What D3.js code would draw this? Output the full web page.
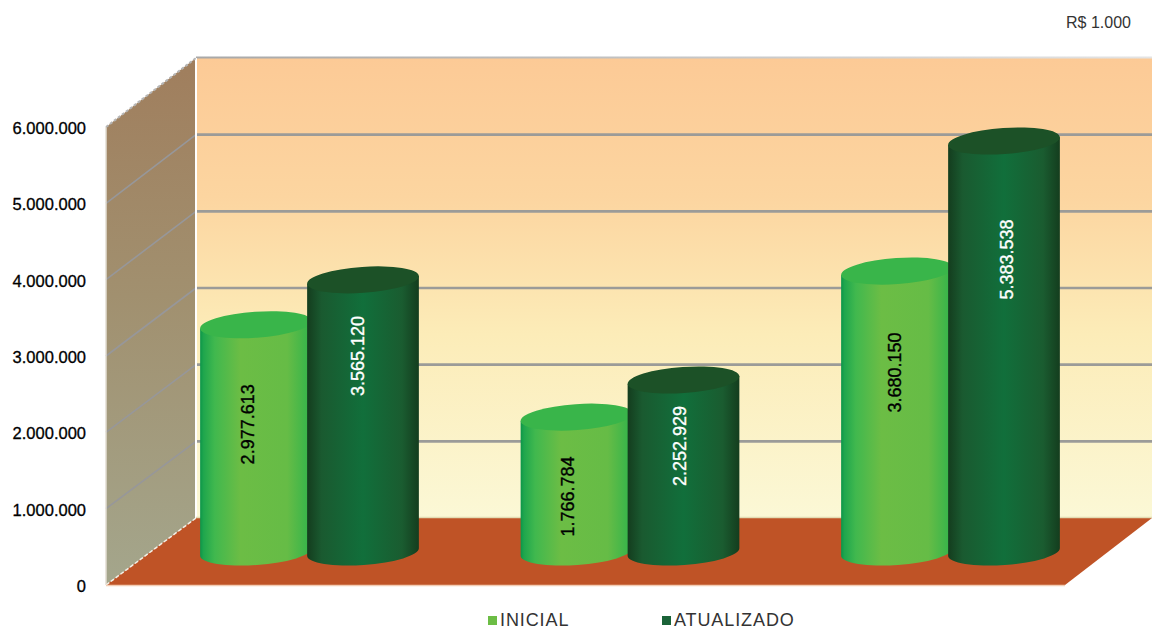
<!DOCTYPE html>
<html>
<head>
<meta charset="utf-8">
<script src="https://cdnjs.cloudflare.com/ajax/libs/d3/7.8.5/d3.min.js"></script>
<style>
  html, body { margin: 0; padding: 0; background: #fff; }
  svg { display: block; font-family: "Liberation Sans", Arial, sans-serif; }
</style>
</head>
<body>
<svg id="chart" width="1152" height="629"></svg>
<script>
// Budget values in R$ 1.000, one pair per group
const groups = [0, 1, 2];
const seriesNames = ["INICIAL", "ATUALIZADO"];
const inicial = [2977613, 1766784, 3680150];
const atualizado = [3565120, 2252929, 5383538];
const tickValues = [0, 1000000, 2000000, 3000000, 4000000, 5000000, 6000000];
const unitLabel = "R$ 1.000";

// Label placement along each cylinder, relative to its body centre: [dx, dy]
const labelNudgeInicial = [[-8, -14], [-9, 12], [-2, -39]];
const labelNudgeAtualizado = [[-5, -60], [-4, -20], [3, -87]];

const fmt = v => d3.format(",")(v).replace(/,/g, ".");

const W = 1152;
const depth = { dx: 90, dy: -67 };
const front = { x: 106, base: 585, top: 127 };
const floorRight = 1065;

const yFront = d3.scaleLinear().domain([0, 6000000]).range([front.base, front.top]);
const yBack = d3.scaleLinear().domain([0, 6000000]).range([front.base + depth.dy, 58]);
const yBar = d3.scaleLinear().domain([0, 6000000]).range([552, 94]);

const xGroup = d3.scaleBand().domain(groups).range([200, 1161.5]);
const xSeries = d3.scaleBand().domain(seriesNames).range([0, 214]);
const barW = 112, ry = 13, tilt = 4;

const svg = d3.select("#chart");
const defs = svg.append("defs");

function linear(id, stops, vertical) {
  const g = defs.append("linearGradient").attr("id", id)
    .attr("x1", 0).attr("y1", 0)
    .attr("x2", vertical ? 0 : 1).attr("y2", vertical ? 1 : 0);
  stops.forEach(([o, c]) => g.append("stop").attr("offset", o).attr("stop-color", c));
}
linear("backWall", [[0, "#fcca96"], [0.3, "#fcd5a0"], [0.6, "#fcecb8"], [1, "#fbf8d6"]], true);
linear("sideWall", [[0, "#a07e5d"], [0.45, "#a1906f"], [1, "#a4a68c"]], true);
linear("bodyINICIAL", [[0, "#0c9549"], [0.03, "#1fa64d"], [0.13, "#40b84e"], [0.36, "#6cbd45"], [0.78, "#66bc46"], [0.96, "#39b54a"], [1, "#39b54a"]]);
linear("bodyATUALIZADO", [[0, "#143d1e"], [0.13, "#1a5a30"], [0.5, "#116f3b"], [0.85, "#1a5c30"], [1, "#143d1e"]]);

const backX = front.x + depth.dx;
const backBase = yBack(0);

// Walls and floor of the 3D box
svg.append("rect").attr("x", backX).attr("y", yBack(6000000))
  .attr("width", W - backX).attr("height", backBase - yBack(6000000))
  .attr("fill", "url(#backWall)");
svg.append("polygon")
  .attr("points", [[front.x, yFront(6000000)], [backX, yBack(6000000)], [backX, backBase], [front.x, yFront(0)]].join(" "))
  .attr("fill", "url(#sideWall)");
svg.append("polygon")
  .attr("points", [[front.x, yFront(0)], [backX, backBase], [W, backBase], [floorRight, yFront(0)]].join(" "))
  .attr("fill", "#bf5326");

// Gridlines across both walls
const inner = tickValues.filter(v => v > 0 && v < 6000000);
svg.append("g").selectAll("line").data(inner).join("line")
  .attr("x1", backX).attr("x2", W)
  .attr("y1", d => yBack(d)).attr("y2", d => yBack(d))
  .attr("stroke", "#9b9b98").attr("stroke-width", 2.6);
svg.append("g").selectAll("line").data(inner).join("line")
  .attr("x1", front.x).attr("x2", backX)
  .attr("y1", d => yFront(d)).attr("y2", d => yBack(d))
  .attr("stroke", "#97979a").attr("stroke-width", 1.6);

// Box edges
linear("topEdge", [[0, "#a8a8a8"], [0.55, "#c8c8c8"], [1, "#e4e4e4"]]);
svg.append("rect").attr("x", backX).attr("y", yBack(6000000) - 1.5)
  .attr("width", W - backX).attr("height", 2).attr("fill", "url(#topEdge)");
svg.append("line").attr("x1", backX).attr("x2", backX)
  .attr("y1", yBack(6000000)).attr("y2", backBase)
  .attr("stroke", "#fff").attr("stroke-width", 2);
svg.append("line").attr("x1", front.x).attr("x2", front.x)
  .attr("y1", yFront(6000000)).attr("y2", yFront(0))
  .attr("stroke", "#e2ddd2").attr("stroke-width", 1.5);
svg.append("line").attr("x1", front.x).attr("y1", yFront(6000000))
  .attr("x2", backX).attr("y2", yBack(6000000))
  .attr("stroke", "#b5b5b5").attr("stroke-width", 2).attr("stroke-dasharray", "3 2");
svg.append("line").attr("x1", front.x).attr("y1", yFront(0))
  .attr("x2", backX).attr("y2", backBase)
  .attr("stroke", "#f2efe6").attr("stroke-width", 1.5).attr("stroke-dasharray", "4 2");
svg.append("line").attr("x1", front.x).attr("x2", floorRight)
  .attr("y1", yFront(0) + 0.5).attr("y2", yFront(0) + 0.5)
  .attr("stroke", "#f3cdb5").attr("stroke-width", 1.5);
svg.append("line").attr("x1", backX).attr("x2", W)
  .attr("y1", backBase - 0.5).attr("y2", backBase - 0.5)
  .attr("stroke", "#e3dcb4").attr("stroke-width", 1.5);

// Cylinders, light series first so the dark one overlaps it
const series = [
  { name: "INICIAL", values: inicial, nudge: labelNudgeInicial, top: "#39b54a", text: "#000" },
  { name: "ATUALIZADO", values: atualizado, nudge: labelNudgeAtualizado, top: "#1c5127", text: "#fff" }
];
const rows = groups.flatMap(g => series.map(s => ({
  g, s, value: s.values[g],
  cx: xGroup(g) + xSeries(s.name) + barW / 2
})));

const rad = tilt * Math.PI / 180;
const ex = barW / 2 * Math.cos(rad), ey = barW / 2 * Math.sin(rad);
const bars = svg.append("g").selectAll("g").data(rows).join("g");

bars.append("path")
  .attr("fill", d => `url(#body${d.s.name})`)
  .attr("d", d => {
    const t = yBar(d.value), b = yBar(0);
    return `M${d.cx - ex},${t + ey} L${d.cx - ex},${b + ey}` +
      ` A${barW / 2},${ry} ${-tilt} 0 0 ${d.cx + ex},${b - ey}` +
      ` L${d.cx + ex},${t - ey} Z`;
  });
bars.append("ellipse")
  .attr("cx", d => d.cx).attr("cy", d => yBar(d.value))
  .attr("rx", barW / 2).attr("ry", ry)
  .attr("transform", d => `rotate(${-tilt} ${d.cx} ${yBar(d.value)})`)
  .attr("fill", d => d.s.top);

// Values written vertically on the cylinders
bars.append("text")
  .attr("transform", d => {
    const [dx, dy] = d.s.nudge[d.g];
    const mid = (yBar(d.value) + yBar(0)) / 2;
    return `translate(${d.cx + dx},${mid + dy}) rotate(-90)`;
  })
  .attr("text-anchor", "middle").attr("dominant-baseline", "central")
  .attr("font-size", 18)
  .attr("fill", d => d.s.text).attr("stroke", d => d.s.text).attr("stroke-width", 0.35)
  .text(d => fmt(d.value));

// Value axis labels
svg.append("g").selectAll("text").data(tickValues).join("text")
  .attr("x", 86).attr("y", d => yFront(d) + 1)
  .attr("text-anchor", "end").attr("dominant-baseline", "central")
  .attr("font-size", 16.5).attr("fill", "#000").attr("stroke", "#000").attr("stroke-width", 0.3)
  .text(d => fmt(d));

// Unit note
svg.append("text").attr("x", 1131).attr("y", 28).attr("text-anchor", "end")
  .attr("font-size", 16).attr("fill", "#333").text(unitLabel);

// Legend
const legendColor = d3.scaleOrdinal().domain(seriesNames).range(["#6cbd45", "#1a6338"]);
const xLegend = d3.scalePoint().domain(seriesNames).range([488, 662]);
const legend = svg.append("g").selectAll("g").data(seriesNames).join("g")
  .attr("transform", d => `translate(${xLegend(d)},616)`);
legend.append("rect").attr("width", 9).attr("height", 9).attr("fill", d => legendColor(d));
legend.append("text").attr("x", 12).attr("y", 9.5)
  .attr("font-size", 18).attr("letter-spacing", 0.9).attr("fill", "#333").text(d => d);
</script>
</body>
</html>
